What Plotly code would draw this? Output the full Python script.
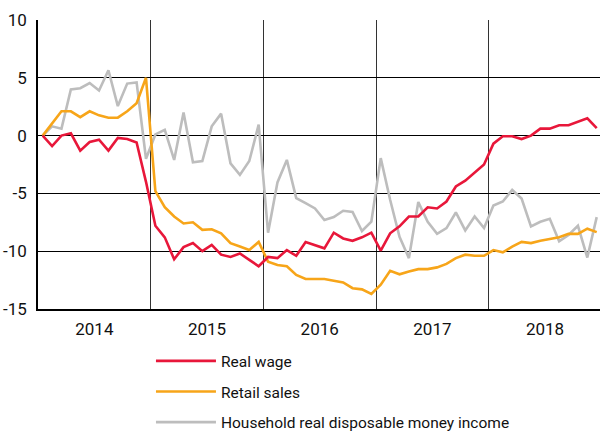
import plotly.graph_objects as go

months = list(range(60))  # Jan 2014 .. Dec 2018
years = ["2014", "2015", "2016", "2017", "2018"]

real_wage = [0, -0.9, 0, 0.2, -1.3, -0.55, -0.35, -1.3, -0.2, -0.3, -0.6, -4.0,
             -7.8, -8.8, -10.7, -9.65, -9.3, -10.0, -9.45, -10.3, -10.5, -10.2, -10.75, -11.3,
             -10.5, -10.6, -9.9, -10.4, -9.2, -9.45, -9.75, -8.4, -8.9, -9.1, -8.8, -8.4,
             -9.95, -8.45, -7.85, -7.0, -7.0, -6.2, -6.3, -5.7, -4.4, -3.9, -3.2, -2.5,
             -0.7, -0.05, -0.05, -0.3, 0, 0.6, 0.6, 0.9, 0.9, 1.2, 1.5, 0.65]

retail_sales = [0, 1.1, 2.1, 2.1, 1.6, 2.1, 1.75, 1.55, 1.55, 2.1, 2.8, 5.0,
                -4.8, -6.2, -7.0, -7.6, -7.5, -8.15, -8.1, -8.45, -9.3, -9.6, -9.9, -9.2,
                -10.9, -11.2, -11.3, -12.05, -12.4, -12.4, -12.4, -12.55, -12.7, -13.2, -13.3, -13.7,
                -12.9, -11.7, -12.0, -11.75, -11.55, -11.55, -11.4, -11.1, -10.6, -10.3, -10.4, -10.4,
                -9.9, -10.1, -9.6, -9.2, -9.3, -9.1, -8.95, -8.8, -8.5, -8.5, -8.05, -8.35]

household_income = [0, 0.8, 0.6, 4.0, 4.1, 4.55, 3.9, 5.65, 2.55, 4.5, 4.6, -2.0,
                     0.1, 0.5, -2.1, 2.0, -2.3, -2.2, 0.8, 1.9, -2.4, -3.4, -2.2, 0.95,
                     -8.4, -4.05, -2.1, -5.4, -5.85, -6.3, -7.3, -7.05, -6.5, -6.6, -8.25, -7.45,
                     -1.95, -5.55, -8.75, -10.6, -5.75, -7.45, -8.5, -8.0, -6.65, -8.2, -7.0, -8.0,
                     -6.05, -5.7, -4.7, -5.45, -7.85, -7.45, -7.2, -9.15, -8.6, -7.8, -10.55, -7.05]

y_ticks = [10, 5, 0, -5, -10, -15]
y_labels = ["10", "5", "0", "-5", "-10", "-15"]

FONT = "Roboto, Lato, sans-serif"

x = [m + 0.5 for m in months]

fig = go.Figure()
series = [
    ("Real wage", real_wage, "#E8173A", 1),
    ("Retail sales", retail_sales, "#F7A519", 2),
    ("Household real disposable money income", household_income, "#BDBDBD", 3),
]
for name, vals, col, rank in reversed(series):
    fig.add_trace(go.Scatter(x=x, y=vals, mode="lines", name=name,
                             line=dict(color=col, width=2.6),
                             legendgroup=name, legendrank=rank))

fig.update_layout(
    width=601, height=433,
    margin=dict(l=38, r=1, t=20, b=124, autoexpand=False),
    paper_bgcolor="white", plot_bgcolor="white",
    font=dict(family=FONT, size=17, color="#111"),
    showlegend=True,
    legend=dict(orientation="v", x=0.201, xanchor="left", y=-0.122, yanchor="top",
                font=dict(family=FONT, size=15.5, color="#111"),
                itemwidth=60, tracegroupgap=7.5, traceorder="grouped",
                bgcolor="rgba(0,0,0,0)"),
)
fig.update_xaxes(
    range=[0, 59.85], automargin=False,
    tickvals=[6, 18, 30, 42, 54], ticktext=years,
    showgrid=False, ticks="", ticklabelstandoff=4,
    showline=True, linecolor="#000", linewidth=1.5,
    minor=dict(tick0=0, dtick=12, showgrid=True, gridcolor="#333", gridwidth=1, ticks=""),
    zeroline=False,
)
fig.update_yaxes(
    range=[-15, 10], automargin=False,
    tickvals=y_ticks, ticktext=y_labels,
    showgrid=True, gridcolor="#000", gridwidth=1,
    ticks="", ticklabelstandoff=6,
    showline=True, linecolor="#000", linewidth=1.5,
    zeroline=False,
)

fig.write_html("out.html", config={"displayModeBar": False},
               post_script="document.body.style.margin='0px';")
